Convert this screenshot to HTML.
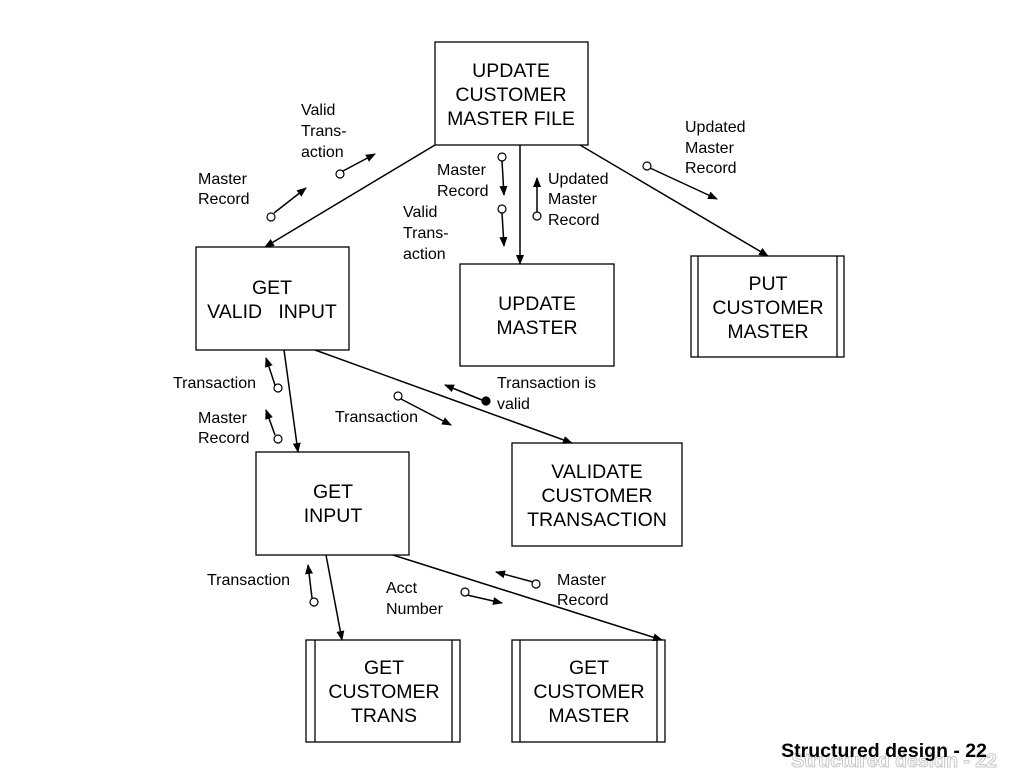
<!DOCTYPE html>
<html><head><style>
body{margin:0;background:#fff;}
svg text{font-family:"Liberation Sans",sans-serif;fill:#000;}
</style></head><body>
<svg width="1024" height="768" viewBox="0 0 1024 768" xmlns="http://www.w3.org/2000/svg">
<defs>
<marker id="a" markerWidth="10" markerHeight="8" refX="9" refY="4" orient="auto" markerUnits="userSpaceOnUse"><path d="M0,0 L10,4 L0,8 z" fill="#000"/></marker>
</defs>
<g fill="none" stroke="#000" stroke-width="1.3">
<rect x="435" y="42" width="153" height="103"/>
<rect x="196" y="247" width="153" height="103"/>
<rect x="460" y="264" width="154" height="102"/>
<rect x="691" y="256" width="153" height="101"/>
<line x1="698" y1="256" x2="698" y2="357"/><line x1="837" y1="256" x2="837" y2="357"/>
<rect x="256" y="452" width="153" height="103"/>
<rect x="512" y="443" width="170" height="103"/>
<rect x="306" y="640" width="154" height="102"/>
<line x1="315" y1="640" x2="315" y2="742"/><line x1="452" y1="640" x2="452" y2="742"/>
<rect x="512" y="640" width="153" height="102"/>
<line x1="520" y1="640" x2="520" y2="742"/><line x1="657" y1="640" x2="657" y2="742"/>
</g>
<g stroke="#000" stroke-width="1.5" fill="none" marker-end="url(#a)">
<line x1="435" y1="145" x2="265" y2="247"/>
<line x1="520" y1="145" x2="520" y2="264"/>
<line x1="580" y1="145" x2="768" y2="256"/>
<line x1="284" y1="350" x2="298" y2="452"/>
<line x1="315" y1="350" x2="572" y2="443"/>
<line x1="326" y1="555" x2="342" y2="640"/>
<line x1="393" y1="555" x2="662" y2="640"/>
<line x1="274" y1="213" x2="306" y2="188"/>
<line x1="343" y1="171" x2="375" y2="154"/>
<line x1="502" y1="161" x2="504" y2="195"/>
<line x1="502" y1="213" x2="504" y2="246"/>
<line x1="537" y1="212" x2="537" y2="178"/>
<line x1="650" y1="168" x2="717" y2="199"/>
<line x1="275" y1="385" x2="266" y2="358"/>
<line x1="275" y1="435" x2="266" y2="410"/>
<line x1="401" y1="399" x2="451" y2="425"/>
<line x1="482" y1="400" x2="445" y2="385"/>
<line x1="312" y1="598" x2="308" y2="565"/>
<line x1="467" y1="595" x2="502" y2="603"/>
<line x1="533" y1="582" x2="496" y2="572"/>
</g>
<g stroke="#000" stroke-width="1.2" fill="#fff">
<circle cx="271" cy="217" r="4"/>
<circle cx="340" cy="174" r="4"/>
<circle cx="502" cy="157" r="4"/>
<circle cx="502" cy="209" r="4"/>
<circle cx="537" cy="216" r="4"/>
<circle cx="647" cy="166" r="4"/>
<circle cx="278" cy="388" r="4"/>
<circle cx="278" cy="439" r="4"/>
<circle cx="398" cy="396" r="4"/>
<circle cx="314" cy="602" r="4"/>
<circle cx="465" cy="592" r="4"/>
<circle cx="536" cy="584" r="4"/>
<circle cx="486" cy="401" r="4" fill="#000"/>
</g>
<g font-size="19.5" text-anchor="middle">
<text x="511" y="77">UPDATE</text><text x="511" y="101">CUSTOMER</text><text x="511" y="125">MASTER FILE</text>
<text x="272" y="294">GET</text><text x="272" y="318" xml:space="preserve">VALID   INPUT</text>
<text x="537" y="310">UPDATE</text><text x="537" y="334">MASTER</text>
<text x="768" y="290">PUT</text><text x="768" y="314">CUSTOMER</text><text x="768" y="338">MASTER</text>
<text x="333" y="498">GET</text><text x="333" y="522">INPUT</text>
<text x="597" y="478">VALIDATE</text><text x="597" y="502">CUSTOMER</text><text x="597" y="526">TRANSACTION</text>
<text x="384" y="674">GET</text><text x="384" y="698">CUSTOMER</text><text x="384" y="722">TRANS</text>
<text x="589" y="674">GET</text><text x="589" y="698">CUSTOMER</text><text x="589" y="722">MASTER</text>
</g>
<g font-size="16">
<text x="301" y="115">Valid</text><text x="301" y="136">Trans-</text><text x="301" y="157">action</text>
<text x="198" y="184">Master</text><text x="198" y="204">Record</text>
<text x="437" y="175">Master</text><text x="437" y="196">Record</text>
<text x="403" y="217">Valid</text><text x="403" y="238">Trans-</text><text x="403" y="259">action</text>
<text x="548" y="184">Updated</text><text x="548" y="204">Master</text><text x="548" y="225">Record</text>
<text x="685" y="132">Updated</text><text x="685" y="153">Master</text><text x="685" y="173">Record</text>
<text x="173" y="388">Transaction</text>
<text x="198" y="423">Master</text><text x="198" y="443">Record</text>
<text x="335" y="422">Transaction</text>
<text x="497" y="388">Transaction is</text><text x="497" y="409">valid</text>
<text x="207" y="585">Transaction</text>
<text x="386" y="593">Acct</text><text x="386" y="614">Number</text>
<text x="557" y="585">Master</text><text x="557" y="605">Record</text>
</g>
<text x="997" y="767" font-size="19.5" font-weight="bold" text-anchor="end" stroke="#bbb" stroke-width="0.8" style="fill:none">Structured design - 22</text>
<text x="987" y="757" font-size="19.5" font-weight="bold" text-anchor="end">Structured design - 22</text>
</svg>
</body></html>
